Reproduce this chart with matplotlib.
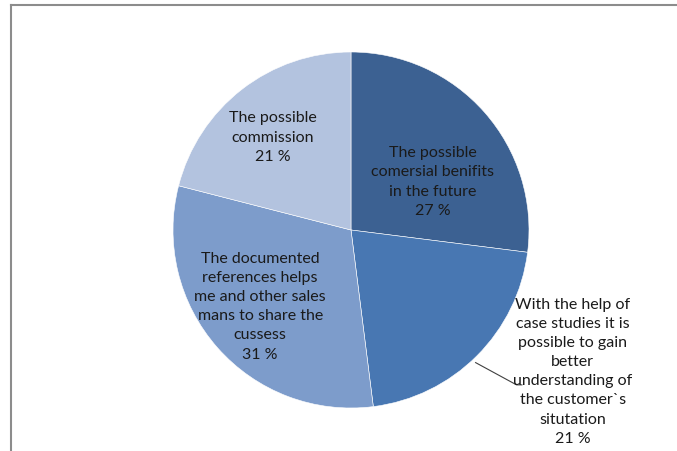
import matplotlib.pyplot as plt

# slice data, clockwise from 12 o'clock
labels = [
    "The possible\ncomersial benifits\nin the future",
    "With the help of\ncase studies it is\npossible to gain\nbetter\nunderstanding of\nthe customer`s\nsitutation",
    "The documented\nreferences helps\nme and other sales\nmans to share the\ncussess",
    "The possible\ncommission",
]
shares = [27, 21, 31, 21]
colors = ["#3c6192", "#4877b2", "#7d9ccb", "#b3c3df"]

W, H = 677, 452
fig = plt.figure(figsize=(W / 100, H / 100), dpi=100)

# grey frame (left and top edges only visible)
fig.add_artist(plt.Line2D([11 / W, 11 / W], [0, 1 - 6 / H], color="#8c8c8c", lw=1.5))
fig.add_artist(plt.Line2D([11 / W, 1], [1 - 6 / H, 1 - 6 / H], color="#8c8c8c", lw=1.5))

cx, cy, r = 351, 231, 178
ax = fig.add_axes([(cx - r) / W, (H - cy - r) / H, 2 * r / W, 2 * r / H])
ax.pie(shares, colors=colors, startangle=90, counterclock=False, radius=1,
       wedgeprops=dict(edgecolor="white", linewidth=0.4))
ax.set_xlim(-1, 1)
ax.set_ylim(-1, 1)
ax.set_aspect("equal")
ax.axis("off")

font = dict(family="Lato", fontsize=11.5, color="#1a1a1a", ha="center", va="center",
            linespacing=1.47)

# label positions in data units (layout)
pos = [(0.46, 0.275), (1.245, -0.79), (-0.51, -0.425), (-0.44, 0.525)]
for lab, s, (x, y) in zip(labels, shares, pos):
    ax.text(x, y, f"{lab}\n{s} %", clip_on=False, **font)

# leader line for the outside label
ax.plot([0.70, 0.93, 0.96], [-0.745, -0.87, -0.87], color="#404040", lw=0.8, clip_on=False)

fig.savefig("out.png", dpi=100)
